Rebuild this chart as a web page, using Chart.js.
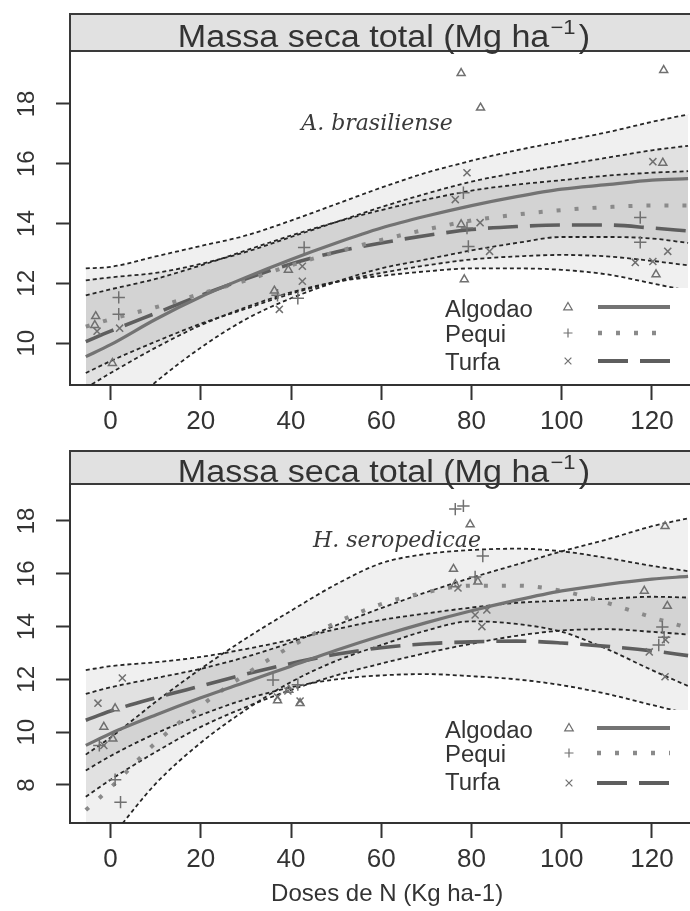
<!DOCTYPE html>
<html>
<head>
<meta charset="utf-8">
<script src="https://cdn.jsdelivr.net/npm/chart.js@4.4.1/dist/chart.umd.min.js"></script>
<style>
  html, body { margin: 0; padding: 0; background: #fff; overflow: hidden; width: 690px; height: 911px; }
  .panel { position: absolute; left: 0; }
  #topPanel { top: 0; }
  #botPanel { top: 430px; }
</style>
</head>
<body>
<div class="panel" id="topPanel"><canvas id="topChart" width="712" height="430"></canvas></div>
<div class="panel" id="botPanel"><canvas id="botChart" width="712" height="481"></canvas></div>
<script>
// doses de N where the fitted curves are drawn
const curveX = [-5.5, 0, 10, 20, 30, 40, 50, 60, 70, 80, 90, 100, 110, 120, 128];
const xTicks = [0, 20, 40, 60, 80, 100, 120];
const topYTicks = [10, 12, 14, 16, 18];
const botYTicks = [8, 10, 12, 14, 16, 18];
const seriesNames = ['Algodao', 'Pequi', 'Turfa'];

// A. brasiliense - fitted curves and bands
const abAlgFit = [9.55, 9.95, 10.8, 11.55, 12.2, 12.8, 13.35, 13.85, 14.25, 14.6, 14.9, 15.15, 15.3, 15.45, 15.5];
const abAlgUp  = [12.5, 12.55, 12.9, 13.25, 13.6, 14.1, 14.65, 15.2, 15.7, 16.1, 16.45, 16.75, 17.05, 17.4, 17.65];
const abAlgLo  = [6.6, 7.35, 8.7, 9.85, 10.8, 11.5, 12.05, 12.5, 12.8, 13.1, 13.35, 13.55, 13.55, 13.5, 13.35];
const abPeqFit = [10.55, 10.8, 11.2, 11.65, 12.1, 12.6, 13.05, 13.45, 13.8, 14.1, 14.3, 14.45, 14.55, 14.6, 14.6];
const abPeqUp  = [12.1, 12.2, 12.35, 12.65, 13.05, 13.55, 14.05, 14.55, 15.0, 15.4, 15.7, 15.95, 16.2, 16.45, 16.6];
const abPeqLo  = [9.0, 9.4, 10.05, 10.65, 11.15, 11.65, 12.05, 12.35, 12.6, 12.8, 12.9, 12.95, 12.9, 12.75, 12.6];
const abTurFit = [10.05, 10.4, 11.0, 11.6, 12.15, 12.65, 13.05, 13.35, 13.6, 13.8, 13.9, 13.95, 13.95, 13.85, 13.75];
const abTurUp  = [11.6, 11.8, 12.15, 12.6, 13.1, 13.6, 14.05, 14.45, 14.8, 15.1, 15.3, 15.45, 15.6, 15.7, 15.75];
const abTurLo  = [8.5, 9.0, 9.85, 10.6, 11.2, 11.7, 12.05, 12.25, 12.4, 12.5, 12.5, 12.45, 12.3, 12.0, 11.75];

// A. brasiliense - observations
const abAlgPtX = [-3.3, -3.5, 0.4, 36.3, 39.4, 77.7, 82, 77.7, 78.4, 122.6, 122.4, 120.9];
const abAlgPtY = [10.9, 10.6, 9.33, 11.75, 12.45, 19.03, 17.87, 13.97, 12.13, 19.13, 16.03, 12.3];
const abPeqPtX = [1.8, 1.8, 42.9, 41.5, 37.0, 78.2, 79.3, 79.0, 117.4, 117.4];
const abPeqPtY = [11.53, 10.97, 13.2, 11.5, 11.6, 15.03, 13.23, 13.85, 14.2, 13.37];
const abTurPtX = [2, -3, 42.5, 42.5, 37.4, 79, 76.4, 81.9, 84, 116.3, 120.2, 123.5, 120.2];
const abTurPtY = [10.5, 10.4, 12.57, 12.07, 11.13, 15.7, 14.8, 14.03, 13.07, 12.7, 12.73, 13.07, 16.07];

// H. seropedicae - fitted curves and bands
const hsAlgFit = [9.5, 9.95, 10.65, 11.3, 11.9, 12.5, 13.1, 13.65, 14.15, 14.6, 15.0, 15.35, 15.6, 15.8, 15.9];
const hsAlgUp  = [11.45, 11.7, 12.05, 12.4, 12.85, 13.4, 14.05, 14.7, 15.3, 15.85, 16.35, 16.85, 17.3, 17.8, 18.1];
const hsAlgLo  = [7.55, 8.2, 9.25, 10.2, 10.95, 11.6, 12.15, 12.6, 13.0, 13.35, 13.65, 13.85, 13.9, 13.8, 13.7];
const hsPeqFit = [7.05, 7.9, 9.6, 11.0, 12.2, 13.25, 14.15, 14.85, 15.3, 15.55, 15.55, 15.35, 14.9, 14.35, 13.95];
const hsPeqUp  = [9.15, 9.8, 11.15, 12.4, 13.55, 14.6, 15.6, 16.4, 16.75, 16.9, 16.95, 16.85, 16.6, 16.3, 16.1];
const hsPeqLo  = [4.95, 6.0, 8.05, 9.6, 10.85, 11.9, 12.7, 13.3, 13.85, 14.2, 14.1, 13.8, 13.15, 12.35, 11.75];
const hsTurFit = [10.45, 10.8, 11.3, 11.75, 12.2, 12.6, 12.95, 13.2, 13.35, 13.42, 13.45, 13.38, 13.25, 13.08, 12.9];
const hsTurUp  = [12.35, 12.5, 12.65, 12.85, 13.15, 13.5, 13.9, 14.25, 14.5, 14.72, 14.9, 14.98, 15.05, 15.13, 15.1];
const hsTurLo  = [8.55, 9.1, 9.95, 10.65, 11.25, 11.7, 12.0, 12.15, 12.2, 12.12, 12.0, 11.78, 11.45, 11.03, 10.7];

// H. seropedicae - observations
const hsAlgPtX = [-1.5, 0.5, 1.0, 37, 39.5, 42, 79.7, 76, 76.4, 81.4, 122.9, 118.3, 123.4];
const hsAlgPtY = [10.2, 9.75, 10.9, 11.2, 11.6, 11.1, 17.87, 16.18, 15.6, 15.7, 17.8, 15.35, 14.78];
const hsPeqPtX = [-2.5, 1.0, 2.2, 36, 41.5, 76.4, 78.2, 82.5, 80.8, 122.3, 122.7, 121.5];
const hsPeqPtY = [9.5, 8.2, 7.35, 11.98, 11.8, 18.45, 18.57, 16.67, 15.88, 13.98, 13.6, 13.3];
const hsTurPtX = [2.6, -2.8, -1.5, 39.3, 42, 37, 77, 80.8, 83.4, 82.3, 119.4, 122.9, 123];
const hsTurPtY = [12.05, 11.1, 9.5, 11.56, 11.18, 11.33, 15.46, 14.44, 14.63, 14.0, 13.04, 12.1, 13.5];

// styles
const ptColor = '#707070';
const curveColors = ['#737373', '#8a8a8a', '#5e5e5e'];
const curveDash = [[], [4, 14], [30, 12]];
const curveWidth = [3.2, 4, 3.6];
const pointStyles = ['triangle', 'cross', 'crossRot'];
const pointSizes = [4.6, 6.2, 5];
const bandFill = 'rgba(0,0,0,0.058)';
const ciColor = '#262626';

function pairs(xs, ys) {
  return xs.map((x, i) => ({ x: x, y: ys[i] }));
}

function buildDatasets(pts, fits, bands) {
  const ds = [];
  pts.forEach((p, i) => {
    ds.push({
      label: seriesNames[i],
      data: pairs(p[0], p[1]),
      showLine: false,
      pointStyle: pointStyles[i],
      pointRadius: pointSizes[i],
      borderColor: ptColor,
      backgroundColor: 'rgba(0,0,0,0)',
      pointBorderWidth: 1.5
    });
  });
  fits.forEach((f, i) => {
    ds.push({
      label: seriesNames[i] + ' ajuste',
      data: pairs(curveX, f),
      showLine: true,
      pointRadius: 0,
      borderColor: curveColors[i],
      borderWidth: curveWidth[i],
      borderDash: curveDash[i],
      cubicInterpolationMode: 'monotone',
      fill: false
    });
  });
  bands.forEach((b, i) => {
    ds.push({
      label: seriesNames[i] + ' sup',
      data: pairs(curveX, b[0]),
      showLine: true,
      pointRadius: 0,
      borderColor: ciColor,
      borderWidth: 1.8,
      borderDash: [4, 3],
      cubicInterpolationMode: 'monotone',
      backgroundColor: bandFill,
      fill: '+1'
    });
    ds.push({
      label: seriesNames[i] + ' inf',
      data: pairs(curveX, b[1]),
      showLine: true,
      pointRadius: 0,
      borderColor: ciColor,
      borderWidth: 1.8,
      borderDash: [4, 3],
      cubicInterpolationMode: 'monotone',
      fill: false
    });
  });
  return ds;
}

// small marks for the legend
function drawMark(ctx, style, x, y, r) {
  ctx.beginPath();
  if (style === 'triangle') {
    ctx.moveTo(x, y - r);
    ctx.lineTo(x + r * 0.95, y + r * 0.65);
    ctx.lineTo(x - r * 0.95, y + r * 0.65);
    ctx.closePath();
  } else if (style === 'cross') {
    ctx.moveTo(x - r, y); ctx.lineTo(x + r, y);
    ctx.moveTo(x, y - r); ctx.lineTo(x, y + r);
  } else {
    const d = r * 0.75;
    ctx.moveTo(x - d, y - d); ctx.lineTo(x + d, y + d);
    ctx.moveTo(x - d, y + d); ctx.lineTo(x + d, y - d);
  }
  ctx.stroke();
}

const panelDecor = {
  id: 'panelDecor',
  beforeDraw(chart, args, o) {
    const ctx = chart.ctx, a = chart.chartArea;
    ctx.save();
    ctx.fillStyle = '#fff';
    ctx.fillRect(0, 0, chart.width, chart.height);
    // strip
    ctx.fillStyle = '#e1e1e1';
    ctx.fillRect(a.left, o.stripTop, chart.width, a.top - o.stripTop);
    ctx.strokeStyle = '#3a3a3a';
    ctx.lineWidth = 2;
    ctx.strokeRect(a.left, o.stripTop, chart.width + 10, a.top - o.stripTop);
    // strip text: Massa seca total (Mg ha^-1)
    const sx = 1.1;
    const big = '31px "Liberation Sans", Arial, sans-serif';
    const small = '20px "Liberation Sans", Arial, sans-serif';
    ctx.font = big;
    const t1 = 'Massa seca total (Mg ha', t3 = ')';
    const w1 = ctx.measureText(t1).width, w3 = ctx.measureText(t3).width;
    ctx.font = small;
    const t2 = '\u22121';
    const w2 = ctx.measureText(t2).width + 4;
    const total = (w1 + w2 + w3) * sx;
    ctx.translate(o.titleX - total / 2, o.titleBase);
    ctx.scale(sx, 1);
    ctx.fillStyle = '#333';
    ctx.textBaseline = 'alphabetic';
    ctx.font = big;
    ctx.fillText(t1, 0, 0);
    ctx.font = small;
    ctx.fillText(t2, w1 + 1, -13);
    ctx.font = big;
    ctx.fillText(t3, w1 + w2, 0);
    ctx.restore();
  },
  afterDatasetsDraw(chart, args, o) {
    const ctx = chart.ctx;
    const lg = o.legend;
    ctx.save();
    ctx.fillStyle = '#fff';
    ctx.fillRect(lg.boxLeft, lg.boxTop, chart.width - lg.boxLeft, lg.boxBottom - lg.boxTop);
    ctx.font = '23px "Liberation Sans", Arial, sans-serif';
    ctx.fillStyle = '#333';
    ctx.textBaseline = 'alphabetic';
    seriesNames.forEach((name, i) => {
      ctx.save();
      ctx.translate(lg.textX, lg.rows[i]);
      ctx.scale(1.04, 1);
      ctx.fillText(name, 0, 0);
      ctx.restore();
      const ym = lg.marks[i];
      ctx.strokeStyle = ptColor;
      ctx.lineWidth = 1.2;
      ctx.setLineDash([]);
      drawMark(ctx, pointStyles[i], lg.symX, ym, 4.5);
      ctx.beginPath();
      ctx.setLineDash(curveDash[i]);
      ctx.lineWidth = curveWidth[i] + 0.6;
      ctx.strokeStyle = curveColors[i];
      ctx.moveTo(lg.lineX0, ym);
      ctx.lineTo(lg.lineX1, ym);
      ctx.stroke();
    });
    ctx.setLineDash([]);
    // species label
    ctx.font = 'italic 22px "DejaVu Serif", serif';
    ctx.fillStyle = '#3a3a3a';
    ctx.textAlign = 'center';
    ctx.fillText(o.species, o.speciesX, o.speciesBase);
    ctx.restore();
  }
};

function makeChart(id, cfg) {
  const ctx = document.getElementById(id).getContext('2d');
  return new Chart(ctx, {
    type: 'scatter',
    data: { datasets: buildDatasets(cfg.pts, cfg.fits, cfg.bands) },
    plugins: [panelDecor],
    options: {
      responsive: false,
      animation: false,
      events: [],
      layout: { padding: { top: cfg.padTop, left: 0, right: 0, bottom: 0 } },
      plugins: {
        legend: { display: false },
        tooltip: { enabled: false },
        filler: { drawTime: 'beforeDatasetsDraw' },
        panelDecor: cfg.decor
      },
      scales: {
        x: {
          type: 'linear',
          min: -9,
          max: 131.6,
          afterFit: s => { s.height = cfg.xHeight; },
          afterBuildTicks: s => { s.ticks = xTicks.map(v => ({ value: v })); },
          border: { display: true, color: '#333', width: 2 },
          grid: { display: true, drawOnChartArea: false, drawTicks: true, tickLength: 15, tickColor: '#333', tickWidth: 2 },
          ticks: { font: { size: 26, family: '"Liberation Sans", Arial, sans-serif' }, color: '#333', padding: 6, maxRotation: 0, autoSkip: false },
          title: cfg.xTitle
        },
        y: {
          type: 'linear',
          min: cfg.yMin,
          max: cfg.yMax,
          afterFit: s => { s.width = 70; },
          afterBuildTicks: s => { s.ticks = cfg.yTicks.map(v => ({ value: v })); },
          border: { display: true, color: '#333', width: 2 },
          grid: { display: true, drawOnChartArea: false, drawTicks: true, tickLength: 14, tickColor: '#333', tickWidth: 2 },
          ticks: { font: { size: 24, family: '"Liberation Sans", Arial, sans-serif' }, color: '#333', padding: 15, minRotation: 90, maxRotation: 90, crossAlign: 'center', autoSkip: false }
        }
      }
    }
  });
}

makeChart('topChart', {
  pts: [[abAlgPtX, abAlgPtY], [abPeqPtX, abPeqPtY], [abTurPtX, abTurPtY]],
  fits: [abAlgFit, abPeqFit, abTurFit],
  bands: [[abAlgUp, abAlgLo], [abPeqUp, abPeqLo], [abTurUp, abTurLo]],
  padTop: 51,
  xHeight: 45,
  yMin: 8.6,
  yMax: 19.77,
  yTicks: topYTicks,
  xTitle: { display: false },
  decor: {
    stripTop: 14, titleX: 384, titleBase: 47,
    species: 'A. brasiliense', speciesX: 377, speciesBase: 130,
    legend: { boxLeft: 430, boxTop: 288, boxBottom: 383, textX: 445, rows: [317, 342, 370],
              marks: [307, 333, 361], symX: 568, lineX0: 598, lineX1: 670 }
  }
});

makeChart('botChart', {
  pts: [[hsAlgPtX, hsAlgPtY], [hsPeqPtX, hsPeqPtY], [hsTurPtX, hsTurPtY]],
  fits: [hsAlgFit, hsPeqFit, hsTurFit],
  bands: [[hsAlgUp, hsAlgLo], [hsPeqUp, hsPeqLo], [hsTurUp, hsTurLo]],
  padTop: 54,
  xHeight: 88,
  yMin: 6.56,
  yMax: 19.4,
  yTicks: botYTicks,
  xTitle: { display: true, text: 'Doses de N (Kg ha-1)', color: '#333',
            font: { size: 24, family: '"Liberation Sans", Arial, sans-serif' }, padding: { top: 0, bottom: 2 } },
  decor: {
    stripTop: 21, titleX: 384, titleBase: 52,
    species: 'H. seropedicae', speciesX: 397, speciesBase: 117,
    legend: { boxLeft: 430, boxTop: 280, boxBottom: 390, textX: 445, rows: [308, 332, 360],
              marks: [298, 323, 353], symX: 569, lineX0: 597, lineX1: 670 }
  }
});
</script>
</body>
</html>
